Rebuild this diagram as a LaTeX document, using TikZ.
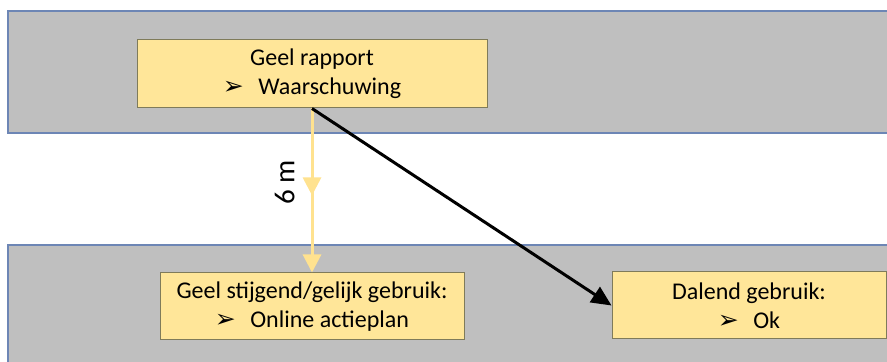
\documentclass[tikz,border=0pt]{standalone}
\usepackage{fontspec}
\setmainfont{Carlito}
\newfontfamily\symfont{DejaVu Sans}
\usetikzlibrary{arrows.meta,decorations.markings}

\definecolor{bandgray}{HTML}{BFBFBF}
\definecolor{bandline}{HTML}{6D86B5}
\definecolor{boxfill}{HTML}{FFE699}
\definecolor{boxline}{HTML}{7F7B5A}
\definecolor{flowyellow}{HTML}{FFE28F}

\newcommand{\pijl}{{\symfont\fontsize{12.5}{12}\selectfont ➢}\hspace{0.6em}}

\tikzset{
	band/.style={fill=bandgray, draw=bandline, line width=0.6pt},
	infobox/.style={rectangle, fill=boxfill, draw=boxline, line width=0.5pt,
		inner sep=0pt, align=center, font=\fontsize{12}{14.5}\selectfont},
	geelpijl/.style={flowyellow, line width=1.5pt, -{Triangle[length=9pt,width=9pt]},
		postaction={decorate, decoration={markings,
			mark=at position 0.53 with {\arrow{Triangle[length=9pt,width=9pt]}}}}},
	zwartepijl/.style={black, line width=1.5pt, -{Triangle[length=10pt,width=9pt]}}
}

\begin{document}
\begin{tikzpicture}[x=0.5pt,y=-0.5pt]
	\clip (0,0) rectangle (887,362);
	%\draw[help lines] (0,0) grid (887,362);
	
	% banden
	\draw[band] (8,11) rectangle (900,133);
	\draw[band] (8,245) rectangle (900,380);
	
	% kaders
	\node[infobox, minimum width=175pt, minimum height=34pt] (rapport) at (312,74)
		{Geel rapport\\\pijl Waarschuwing};
	\node[infobox, minimum width=152pt, minimum height=33.5pt] (stijgend) at (312,306.5)
		{Geel stijgend/gelijk gebruik:\\\pijl Online actieplan};
	\node[infobox, minimum width=137pt, minimum height=33.5pt] (dalend) at (749,305.5)
		{Dalend gebruik:\\\pijl Ok};
	
	% pijlen
	\draw[geelpijl] (rapport.south) -- (stijgend.north)
		node[pos=0.45, rotate=90, anchor=south, inner sep=8pt,
			font=\fontsize{14.5}{16}\selectfont, text=black] (duur) {6 m};
	\draw[zwartepijl] (rapport.south) -- (dalend.west);
\end{tikzpicture}
\end{document}
